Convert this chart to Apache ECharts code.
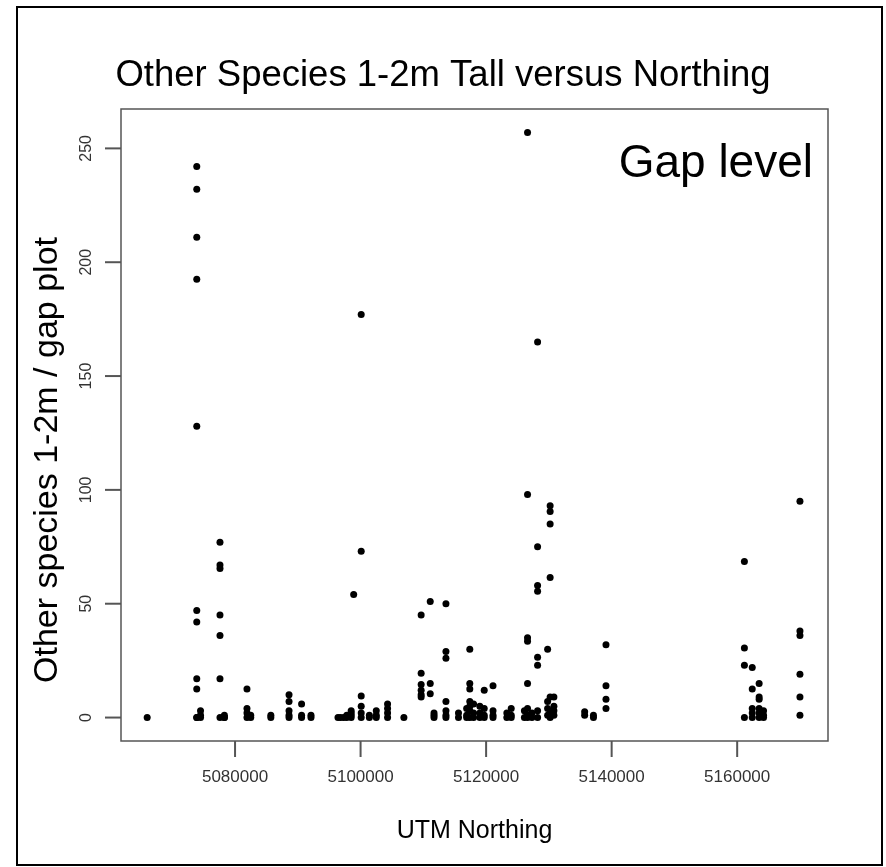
<!DOCTYPE html>
<html>
<head>
<meta charset="utf-8">
<script src="https://cdn.jsdelivr.net/npm/echarts@6/dist/echarts.min.js"></script>
<style>
  html, body { margin: 0; padding: 0; background: #fff; }
  #chart { width: 886px; height: 867px; }
</style>
</head>
<body>
<div id="chart"></div>
<script>
// Plot-level survey: UTM northing of each gap site and the counts of
// "other species" stems 1-2 m tall recorded in each gap plot at that site.
const siteNorthing = [
  5066000, 5073900, 5074500, 5077600, 5078300, 5081900, 5082500, 5085700,
  5088600, 5090600, 5092100, 5096400, 5096800, 5097300, 5097800, 5098500,
  5098900, 5100100, 5101400, 5102500, 5104300, 5106900, 5109650, 5111100,
  5111700, 5113600, 5115600, 5116900, 5117400, 5118000, 5119000, 5119700,
  5121100, 5123300, 5124000, 5126100, 5126600, 5127300, 5128200, 5129800,
  5130200, 5130800, 5135700, 5137100, 5139100, 5161150, 5162400, 5163500,
  5164200, 5170000
];

const plotCounts = [
  [0],
  [242, 232, 211, 192.5, 128, 47, 42, 17, 12.5, 0, 0],
  [3, 1, 0],
  [77, 67, 65.5, 45, 36, 17, 0],
  [1, 0, 0],
  [12.5, 4, 2, 0],
  [1, 0],
  [0, 1],
  [10, 7, 3, 1, 0],
  [6, 1, 0],
  [0, 1],
  [0],
  [0],
  [0],
  [0, 1],
  [3, 1, 0, 2],
  [54],
  [177, 73, 9.5, 5, 2, 0],
  [1, 0],
  [3, 1, 0],
  [6, 4, 2, 0],
  [0],
  [45, 19.5, 14.5, 12, 10, 9],
  [51, 15, 10.5],
  [2, 1, 0],
  [50, 29, 26, 7, 3, 1, 0],
  [2, 0],
  [4, 1, 0],
  [30, 15, 12.5, 7, 5, 3, 0],
  [6, 2, 0],
  [5, 2, 0],
  [12, 4, 1, 0],
  [14, 3, 1, 0],
  [2, 0],
  [4, 1, 0],
  [3, 0],
  [257, 98, 35, 33.5, 15, 4, 1, 0],
  [2, 0],
  [165, 75, 58, 55.5, 26.5, 23, 3, 0],
  [30, 7, 4, 1],
  [93, 90.5, 85, 61.5, 9, 2, 0],
  [9, 5, 3, 1],
  [2.5, 1],
  [0, 1],
  [32, 14, 8, 4],
  [68.5, 30.5, 23, 0],
  [22, 12.5, 4, 2, 0],
  [15, 9, 8, 4, 2, 0],
  [3, 1, 0],
  [95, 38, 36, 19, 9, 1]
];

const xTicks = [5080000, 5100000, 5120000, 5140000, 5160000];
const yTicks = [0, 50, 100, 150, 200, 250];

const chartTitle = 'Other Species 1-2m Tall versus Northing';
const panelLabel = 'Gap level';
const xTitle = 'UTM Northing';
const yTitle = 'Other species 1-2m / gap plot';

// Axis ranges padded 4% beyond the data, as base graphics does.
const xMin = 5061830, xMax = 5174470;
const yMin = -10.3, yMax = 267.3;

const points = [];
siteNorthing.forEach((n, i) => {
  plotCounts[i].forEach(v => points.push([n, v]));
});

// Tick marks sit on the frame edges at the tick values and hang outward.
const xTickMarks = xTicks.map(v => [v, yMin]);
const yTickMarks = yTicks.map(v => [xMin, v]);

const FONT = '"Liberation Sans", Arial, sans-serif';
const AXIS_GREY = '#555';
const TICK_LEN = 16;
const TICK_W = 2;
const chart = echarts.init(document.getElementById('chart'), null, { renderer: 'canvas' });

chart.setOption({
  animation: false,
  backgroundColor: '#ffffff',
  title: [
    {
      text: chartTitle,
      left: 'center',
      top: 52,
      textStyle: { fontFamily: FONT, fontSize: 36.5, fontWeight: 'normal', color: '#000' }
    },
    {
      text: panelLabel,
      right: 68,
      top: 136,
      textStyle: { fontFamily: FONT, fontSize: 46, fontWeight: 'normal', color: '#000' }
    }
  ],
  grid: {
    left: 121, top: 109, right: 58, bottom: 126,
    show: true,
    borderColor: AXIS_GREY,
    borderWidth: 1.5,
    backgroundColor: 'transparent'
  },
  xAxis: {
    type: 'value',
    position: 'bottom',
    min: xMin,
    max: xMax,
    name: xTitle,
    nameLocation: 'middle',
    nameGap: 78,
    nameTextStyle: { fontFamily: FONT, fontSize: 25, color: '#000' },
    axisLine: { show: false, onZero: false },
    splitLine: { show: false },
    axisTick: { show: false },
    axisLabel: {
      customValues: xTicks,
      margin: 28,
      fontFamily: FONT,
      fontSize: 17,
      color: '#333',
      formatter: v => String(v)
    }
  },
  yAxis: {
    type: 'value',
    position: 'left',
    min: yMin,
    max: yMax,
    name: yTitle,
    nameLocation: 'middle',
    nameRotate: 90,
    nameGap: 56,
    nameTextStyle: { fontFamily: FONT, fontSize: 34, color: '#000', padding: [0, 70, 0, 0] },
    axisLine: { show: false, onZero: false },
    splitLine: { show: false },
    axisTick: { show: false },
    axisLabel: {
      customValues: yTicks,
      rotate: 90,
      margin: 26,
      fontFamily: FONT,
      fontSize: 16,
      color: '#333',
      formatter: v => String(v)
    }
  },
  graphic: [
    {
      type: 'rect',
      silent: true,
      shape: { x: 17, y: 7, width: 865, height: 858 },
      style: { fill: 'none', stroke: '#000', lineWidth: 2 }
    }
  ],
  series: [
    {
      name: 'x ticks',
      type: 'scatter',
      data: xTickMarks,
      symbol: 'rect',
      symbolSize: [TICK_W, TICK_LEN],
      symbolOffset: [0, TICK_LEN / 2],
      itemStyle: { color: AXIS_GREY, opacity: 1 },
      clip: false,
      silent: true,
      z: 5
    },
    {
      name: 'y ticks',
      type: 'scatter',
      data: yTickMarks,
      symbol: 'rect',
      symbolSize: [TICK_LEN, TICK_W],
      symbolOffset: [-TICK_LEN / 2, 0],
      itemStyle: { color: AXIS_GREY, opacity: 1 },
      clip: false,
      silent: true,
      z: 5
    },
    {
      name: 'gap plots',
      type: 'scatter',
      data: points,
      symbol: 'circle',
      symbolSize: 7,
      itemStyle: { color: '#000', opacity: 1 },
      silent: true
    }
  ]
});
</script>
</body>
</html>
